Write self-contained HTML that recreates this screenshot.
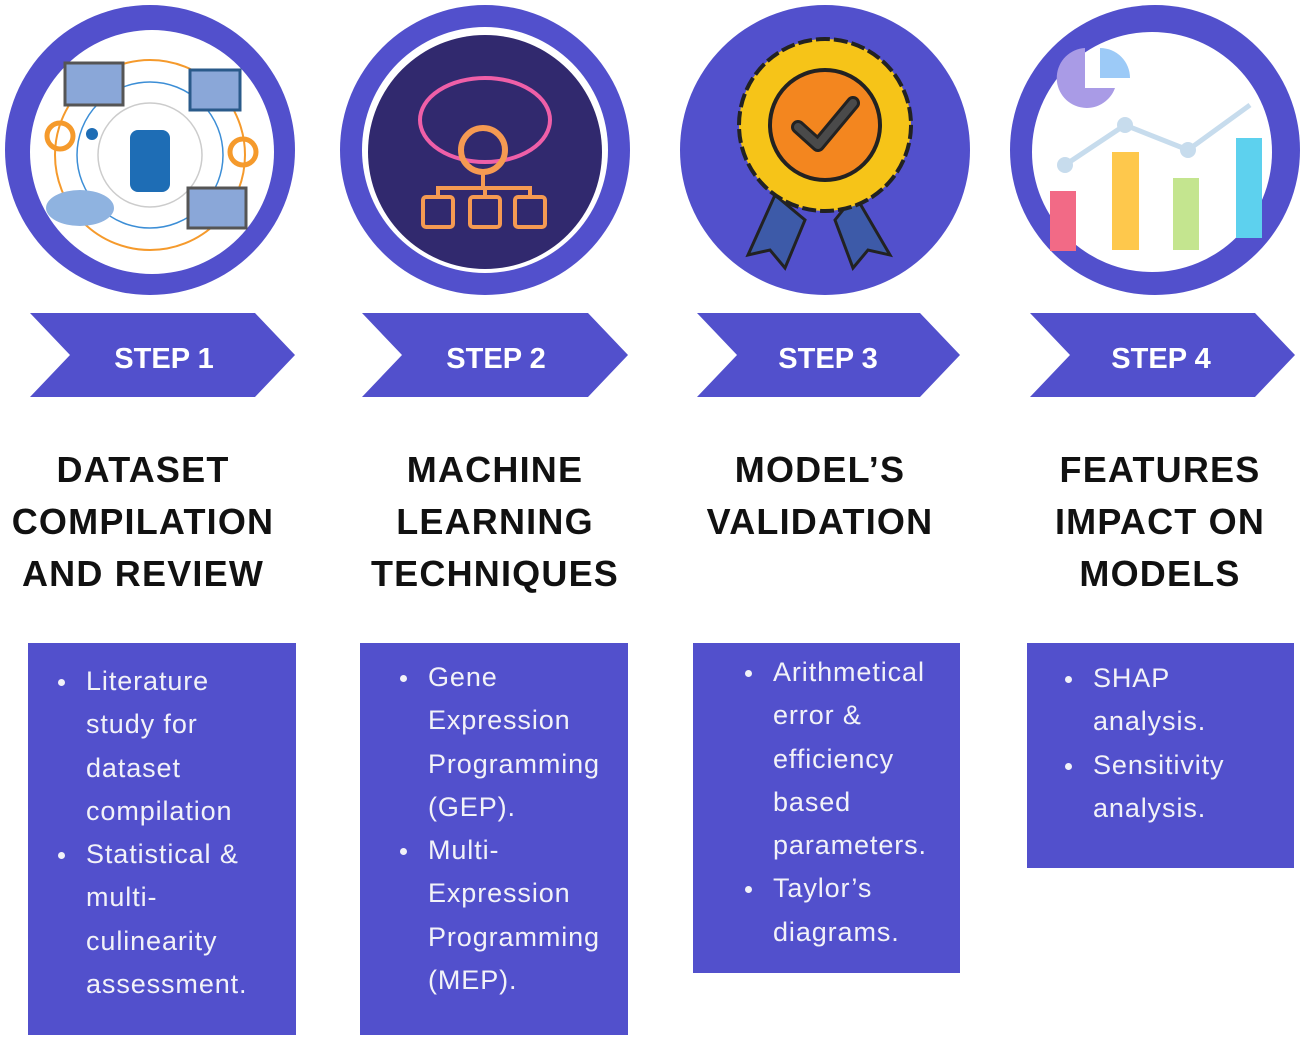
<!DOCTYPE html>
<html><head><meta charset="utf-8"><style>
body{margin:0;width:1300px;height:1041px;background:#fff;position:relative;overflow:hidden;font-family:"Liberation Sans",sans-serif}
.h{position:absolute;top:444px;width:330px;text-align:center;font-weight:bold;font-size:36px;line-height:52px;color:#111;letter-spacing:1.2px}
.box{position:absolute;background:#5250cc;color:#f2f2f8;font-size:27px;letter-spacing:0.9px;line-height:43.3px;white-space:nowrap}
.box ul{margin:0;padding:0 0 0 58px;list-style:none}
.box li{position:relative}
.box li:before{content:"";position:absolute;left:-28px;top:19px;width:7px;height:7px;border-radius:50%;background:#f2f2f8}
</style></head><body>
<svg width="1300" height="420" style="position:absolute;left:0;top:0">
<g fill="#5250cc">
<polygon points="30,313 255,313 295,355 255,397 30,397 70,355"/>
<polygon points="362,313 588,313 628,355 588,397 362,397 402,355"/>
<polygon points="697,313 920,313 960,355 920,397 697,397 737,355"/>
<polygon points="1030,313 1255,313 1295,355 1255,397 1030,397 1070,355"/>
</g>
<g fill="#fff" font-weight="bold" font-size="29" text-anchor="middle" font-family="Liberation Sans,sans-serif">
<text x="164" y="368">STEP 1</text><text x="496" y="368">STEP 2</text><text x="828" y="368">STEP 3</text><text x="1161" y="368">STEP 4</text>
</g>
<circle cx="150" cy="150" r="145" fill="#5250cc"/>
<circle cx="152" cy="152" r="122" fill="#fff"/>
<circle cx="150" cy="155" r="95" fill="none" stroke="#f59a2c" stroke-width="2"/>
<circle cx="150" cy="155" r="73" fill="none" stroke="#3c8ed6" stroke-width="1.5"/>
<circle cx="150" cy="155" r="52" fill="none" stroke="#ccc" stroke-width="1.5"/>
<rect x="130" y="130" width="40" height="62" rx="8" fill="#1e6db5"/>
<rect x="65" y="63" width="58" height="42" fill="#8aa7d8" stroke="#555" stroke-width="3"/>
<rect x="190" y="70" width="50" height="40" fill="#8aa7d8" stroke="#2a5a8a" stroke-width="3"/>
<rect x="188" y="188" width="58" height="40" fill="#8aa7d8" stroke="#555" stroke-width="3"/>
<ellipse cx="80" cy="208" rx="34" ry="18" fill="#8fb3e0"/>
<circle cx="60" cy="136" r="13" fill="none" stroke="#f59a2c" stroke-width="5"/>
<circle cx="243" cy="152" r="13" fill="none" stroke="#f59a2c" stroke-width="5"/>
<circle cx="92" cy="134" r="6" fill="#1e6db5"/>
<circle cx="485" cy="150" r="145" fill="#5250cc"/>
<circle cx="485" cy="150" r="123" fill="#fff"/>
<circle cx="485" cy="152" r="117" fill="#31296e"/>
<ellipse cx="485" cy="120" rx="65" ry="42" fill="none" stroke="#ef5fa8" stroke-width="4"/>
<circle cx="483" cy="150" r="22" fill="none" stroke="#f59a52" stroke-width="6"/>
<g fill="none" stroke="#f59a52" stroke-width="4"><rect x="423" y="197" width="30" height="30" rx="3"/><rect x="470" y="197" width="30" height="30" rx="3"/><rect x="515" y="197" width="30" height="30" rx="3"/><path d="M483 172V188M438 197V188H530V197M485 188V197"/></g>
<circle cx="825" cy="150" r="145" fill="#5250cc"/>
<path d="M775 195 L748 255 L770 250 L785 268 L805 220Z M855 195 L890 255 L868 250 L853 268 L835 220Z" fill="#3d5aa8" stroke="#222" stroke-width="3"/>
<circle cx="825" cy="125" r="86" fill="#f6c418" stroke="#222" stroke-width="4" stroke-dasharray="14 4"/>
<circle cx="825" cy="125" r="55" fill="#f3861f" stroke="#222" stroke-width="4"/>
<path d="M798 127 L818 145 L853 103" fill="none" stroke="#222" stroke-width="14" stroke-linecap="round" stroke-linejoin="round"/>
<path d="M798 127 L818 145 L853 103" fill="none" stroke="#4a4a4a" stroke-width="8" stroke-linecap="round" stroke-linejoin="round"/>
<circle cx="1155" cy="150" r="145" fill="#5250cc"/>
<circle cx="1152" cy="152" r="120" fill="#fff"/>
<path d="M1085 48 A30 30 0 1 0 1115 88 L1085 88Z" fill="#a99be6"/>
<path d="M1100 48 A30 30 0 0 1 1130 78 L1100 78Z" fill="#9ccaf7"/>
<polyline points="1065,165 1125,125 1188,150 1250,105" fill="none" stroke="#c7dced" stroke-width="5"/>
<g fill="#c7dced"><circle cx="1065" cy="165" r="8"/><circle cx="1125" cy="125" r="8"/><circle cx="1188" cy="150" r="8"/></g>
<rect x="1050" y="191" width="26" height="60" fill="#f26a86"/>
<rect x="1112" y="152" width="27" height="98" fill="#fec84c"/>
<rect x="1173" y="178" width="26" height="72" fill="#c4e58f"/>
<rect x="1236" y="138" width="26" height="100" fill="#5dd1ee"/>
</svg>
<div class="h" style="left:-22px">DATASET<br>COMPILATION<br>AND REVIEW</div>
<div class="h" style="left:330px">MACHINE<br>LEARNING<br>TECHNIQUES</div>
<div class="h" style="left:655px">MODEL’S<br>VALIDATION</div>
<div class="h" style="left:995px">FEATURES<br>IMPACT ON<br>MODELS</div>
<div class="box" style="left:28px;top:643px;width:268px;height:392px;padding-top:17px;box-sizing:border-box"><ul><li>Literature<br>study for<br>dataset<br>compilation</li><li>Statistical &amp;<br>multi-<br>culinearity<br>assessment.</li></ul></div>
<div class="box" style="left:360px;top:643px;width:268px;height:392px;padding-top:13px;box-sizing:border-box"><ul style="padding-left:68px"><li>Gene<br>Expression<br>Programming<br>(GEP).</li><li>Multi-<br>Expression<br>Programming<br>(MEP).</li></ul></div>
<div class="box" style="left:693px;top:643px;width:267px;height:330px;padding-top:8px;box-sizing:border-box"><ul style="padding-left:80px"><li>Arithmetical<br>error &amp;<br>efficiency<br>based<br>parameters.</li><li>Taylor’s<br>diagrams.</li></ul></div>
<div class="box" style="left:1027px;top:643px;width:267px;height:225px;padding-top:14px;box-sizing:border-box"><ul style="padding-left:66px"><li>SHAP<br>analysis.</li><li>Sensitivity<br>analysis.</li></ul></div>
</body></html>
